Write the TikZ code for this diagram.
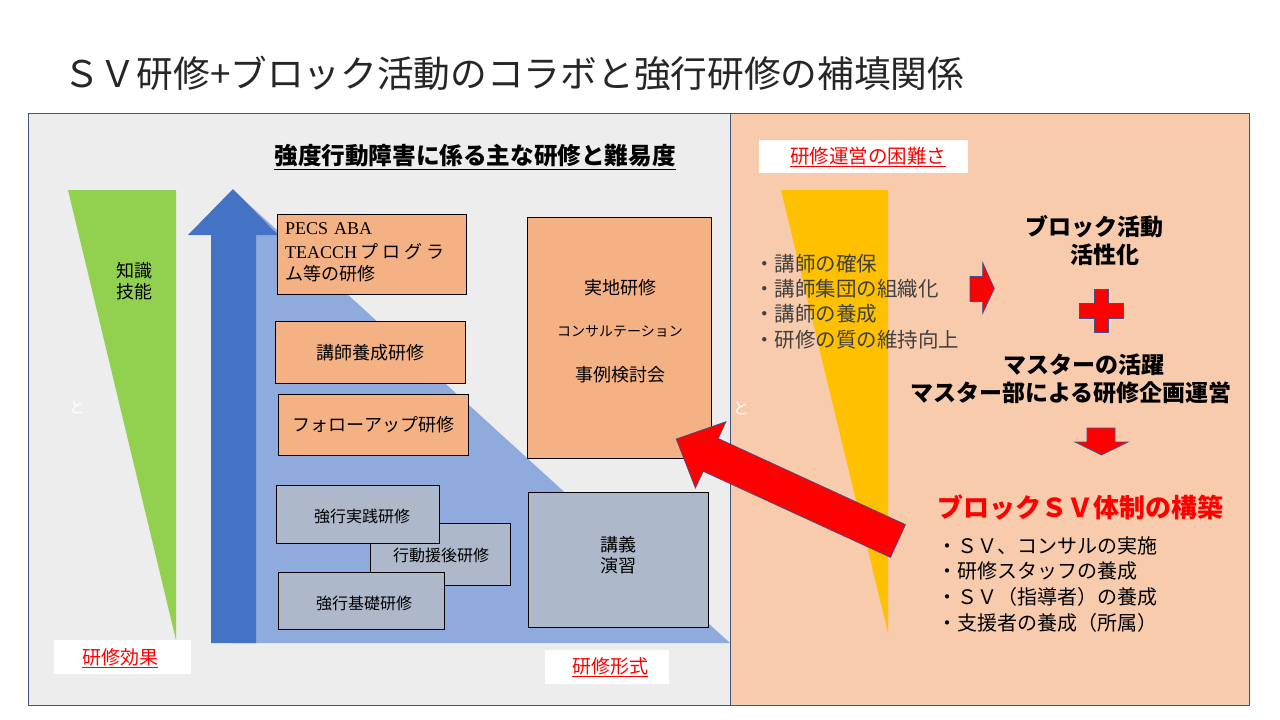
\documentclass[tikz,border=0pt]{standalone}
\usepackage{fontspec}
\setmainfont{Liberation Serif}
\newfontfamily\jp{Noto Sans CJK JP}
\usetikzlibrary{positioning}
\definecolor{panelL}{HTML}{EDEDED}
\definecolor{panelR}{HTML}{F8CBAD}
\definecolor{frame}{HTML}{41557A}
\definecolor{grn}{HTML}{92D050}
\definecolor{blu}{HTML}{4472C4}
\definecolor{lblu}{HTML}{8FAADC}
\definecolor{orng}{HTML}{F4B183}
\definecolor{gry}{HTML}{ADB9CA}
\definecolor{yel}{HTML}{FFC000}
\definecolor{redc}{HTML}{FF0000}
\definecolor{redline}{HTML}{46508C}
\definecolor{dgray}{HTML}{404040}
\definecolor{ttl}{HTML}{262626}
\tikzset{
  panel/.style={draw=frame, line width=0.9pt},
  obox/.style={draw=black, fill=orng, line width=0.8pt, anchor=north west, inner sep=0pt},
  gbox/.style={draw=black, fill=gry, line width=0.8pt, anchor=north west, inner sep=0pt},
  wbox/.style={fill=white, draw=none},
  redshape/.style={fill=redc, draw=redline, line width=0.7pt, line join=miter},
  jt/.style={font=\jp\fontsize{#1}{#1}\selectfont, inner sep=0pt},
  jt/.default=18,
  jb/.style={font=\jp\bfseries\fontsize{#1}{#1}\selectfont, inner sep=0pt},
  jb/.default=23,
}
\begin{document}
\begin{tikzpicture}[x=1pt,y=-1pt]
\useasboundingbox (0,0) rectangle (1280,720);
\fill[white] (0,0) rectangle (1280,720);

% title
\node[jt=36.7, text=ttl, anchor=west] (title) at (63,73) {ＳＶ研修+ブロック活動のコラボと強行研修の補填関係};

% panels
\draw[panel, fill=panelL] (28,113) rectangle (730,705);
\draw[panel, fill=panelR] (730,113) rectangle (1249,705);

% heading
\node[jb=23.6, text=black] (head) at (475,157) {\underline{強度行動障害に係る主な研修と難易度}};

% green triangle
\fill[grn] (68,190) -- (176,190) -- (176,640) -- cycle;
\node[jt=18, align=center] (chishiki) at (134,281) {知識\\[3pt]技能};
\node[jt=16, text=white] (to1) at (77,407) {と};

% light blue triangle and blue arrow
\fill[lblu] (233,190) -- (730,643) -- (233,643) -- cycle;
\fill[blu] (211,643) -- (211,235) -- (188,235) -- (233,189) -- (278,235) -- (256,235) -- (256,643) -- cycle;

% orange boxes
\node[obox, minimum width=189, minimum height=80] (pecs) at (277,214) {};
\node[anchor=west, inner sep=0pt, font=\fontsize{18}{18}\selectfont] (pecs1) at (285,229) {PECS\hspace{6pt}ABA};
\node[anchor=west, inner sep=0pt, font=\fontsize{18}{18}\selectfont] (pecs2) at (285,252) {TEACCH\hspace{3pt}{\jp プ\hspace{4pt}ロ\hspace{4pt}グ\hspace{4pt}ラ}};
\node[anchor=west, jt=18] (pecs3) at (285,274) {ム等の研修};

\node[obox, minimum width=190, minimum height=62] (koshi) at (275,321) {};
\node[jt=18] (koshit) at (koshi.center) {講師養成研修};

\node[obox, minimum width=190, minimum height=61] (follow) at (278,394) {};
\node[jt=18] (followt) at (follow.center) {フォローアップ研修};

\node[obox, minimum width=184, minimum height=241] (jichi) at (527,217) {};
\node[jt=18] (jichi1) at (620,288) {実地研修};
\node[jt=14] (jichi2) at (620,331) {コンサルテーション};
\node[jt=18] (jichi3) at (620,375) {事例検討会};

% gray boxes
\node[gbox, minimum width=140, minimum height=62] (kodo) at (370,523) {};
\node[jt=16] (kodot) at (441,555) {行動援後研修};
\node[gbox, minimum width=163, minimum height=58] (jissen) at (276,485) {};
\node[jt=16] (jissent) at (362,516) {強行実践研修};
\node[gbox, minimum width=166, minimum height=57] (kiso) at (278,572) {};
\node[jt=16] (kisot) at (364,603) {強行基礎研修};
\node[gbox, minimum width=180, minimum height=135] (kogi) at (528,492) {};
\node[jt=18, align=center] (kogit) at (618,555) {講義\\[3pt]演習};

% labels
\fill[wbox] (54,640) rectangle (191,674);
\node[jt=19, text=redc] (koka) at (120,658) {\underline{研修効果}};
\fill[wbox] (545,650) rectangle (669,684);
\node[jt=19, text=redc] (keishiki) at (610,667) {\underline{研修形式}};

% right panel
\fill[wbox] (759,140) rectangle (968,173);
\node[jt=19.5, text=redc] (konnan) at (868,157) {\underline{研修運営の困難さ}};
\fill[yel] (781,190) -- (888,190) -- (888,633) -- cycle;
\node[jt=16, text=white] (to2) at (741,408) {と};

\node[jt=20.5, text=dgray, anchor=west] (l1a) at (754,264) {・講師の確保};
\node[jt=20.5, text=dgray, anchor=west] (l1b) at (754,289) {・講師集団の組織化};
\node[jt=20.5, text=dgray, anchor=west] (l1c) at (754,314) {・講師の養成};
\node[jt=20.5, text=dgray, anchor=west] (l1d) at (754,340) {・研修の質の維持向上};

\draw[redshape] (970,276.5) -- (982.7,276.5) -- (982.7,262.7) -- (994.3,288.5) -- (982.7,313.3) -- (982.7,301.5) -- (970,301.5) -- cycle;

\node[jb=23] (block1) at (1094,227) {ブロック活動};
\node[jb=23] (block2) at (1105,255) {活性化};

\draw[redshape] (1094,289) -- (1108,289) -- (1108,303) -- (1123,303) -- (1123,318) -- (1108,318) -- (1108,332) -- (1094,332) -- (1094,318) -- (1079,318) -- (1079,303) -- (1094,303) -- cycle;

\node[jb=23] (master1) at (1084,365) {マスターの活躍};
\node[jb=23] (master2) at (1071,393) {マスター部による研修企画運営};

\draw[redshape] (1087,428) -- (1115,428) -- (1115,442) -- (1128,442) -- (1101.5,455) -- (1075,442) -- (1087,442) -- cycle;

\node[jb=26, text=redc] (svtai) at (1080,507) {ブロックＳＶ体制の構築};

\node[jt=20, text=black, anchor=west] (l2a) at (937,546) {・ＳＶ、コンサルの実施};
\node[jt=20, text=black, anchor=west] (l2b) at (937,571) {・研修スタッフの養成};
\node[jt=20, text=black, anchor=west] (l2c) at (937,597) {・ＳＶ（指導者）の養成};
\node[jt=20, text=black, anchor=west] (l2d) at (937,623) {・支援者の養成（所属）};

% big red arrow
\draw[redshape] (905.5,524.6) -- (718.2,438.5) -- (726.0,421.7) -- (676.2,439) -- (695.4,488.1) -- (703.2,471.3) -- (890.5,557.4) -- cycle;
\end{tikzpicture}
\end{document}
